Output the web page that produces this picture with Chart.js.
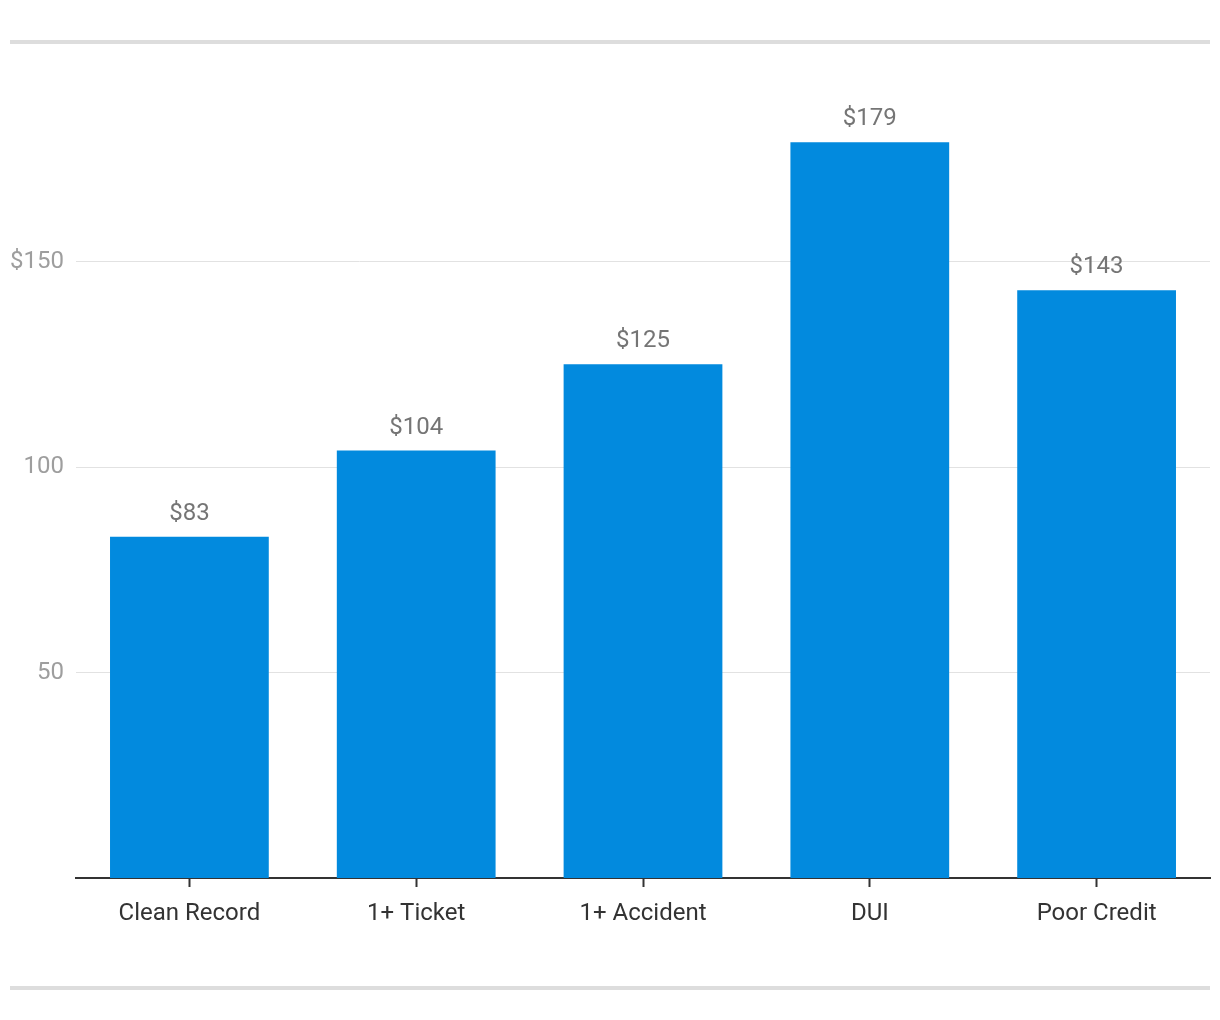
<!DOCTYPE html>
<html><head><meta charset="utf-8">
<script src="https://cdn.jsdelivr.net/npm/chart.js@4/dist/chart.umd.min.js"></script>
<style>html,body{margin:0;padding:0;background:#fff}#wrap{width:1220px;height:1020px;position:relative}</style>
</head><body><div id="wrap"><canvas id="c" width="1220" height="1020"></canvas></div>
<script>
const categories = ['Clean Record', '1+ Ticket', '1+ Accident', 'DUI', 'Poor Credit'];
const premiums = [83, 104, 125, 179, 143];
const yTicks = [50, 100, 150];
const yTickLabels = {50: '50', 100: '100', 150: '$150'};

const frame = {
  id: 'frame',
  beforeDraw(chart) {
    const ctx = chart.ctx;
    ctx.save();
    ctx.fillStyle = '#ffffff';
    ctx.fillRect(0, 0, chart.width, chart.height);
    ctx.fillStyle = '#dddddd';
    ctx.fillRect(10, 40, 1200, 4);
    ctx.fillRect(10, 986, 1200, 4);
    ctx.restore();
  },
  afterDatasetsDraw(chart) {
    const ctx = chart.ctx;
    const meta = chart.getDatasetMeta(0);
    ctx.save();
    ctx.font = '24px Roboto';
    ctx.fillStyle = '#757575';
    ctx.textAlign = 'center';
    ctx.textBaseline = 'alphabetic';
    meta.data.forEach((bar, i) => {
      ctx.fillText('$' + premiums[i], bar.x, bar.y - 17);
    });
    ctx.restore();
  }
};

new Chart(document.getElementById('c'), {
  type: 'bar',
  data: {
    labels: categories,
    datasets: [{ data: premiums, backgroundColor: '#028ade', barPercentage: 0.7, categoryPercentage: 1.0 }]
  },
  options: {
    responsive: false,
    animation: false,
    devicePixelRatio: 1,
    layout: { padding: { top: 56, right: 10, bottom: 0, left: 0 } },
    plugins: { legend: { display: false }, tooltip: { enabled: false } },
    scales: {
      x: {
        afterFit(scale) { scale.height = 142; },
        grid: { offset: false, drawOnChartArea: false, drawTicks: true, tickLength: 9, tickColor: '#333333', tickWidth: 2 },
        border: { color: '#333333', width: 2 },
        ticks: { color: '#333333', font: { family: 'Roboto', size: 24 }, padding: 13, maxRotation: 0 }
      },
      y: {
        min: 0, max: 200,
        afterFit(scale) { scale.width = 76; },
        afterBuildTicks(scale) { scale.ticks = yTicks.map(v => ({ value: v })); },
        grid: { color: '#e2e2e2', lineWidth: 1, drawTicks: false },
        border: { display: false },
        ticks: { color: '#9e9e9e', font: { family: 'Roboto', size: 24, lineHeight: 1.05 }, padding: 12,
          callback: (v) => yTickLabels[v] }
      }
    }
  },
  plugins: [frame]
});
</script></body></html>
